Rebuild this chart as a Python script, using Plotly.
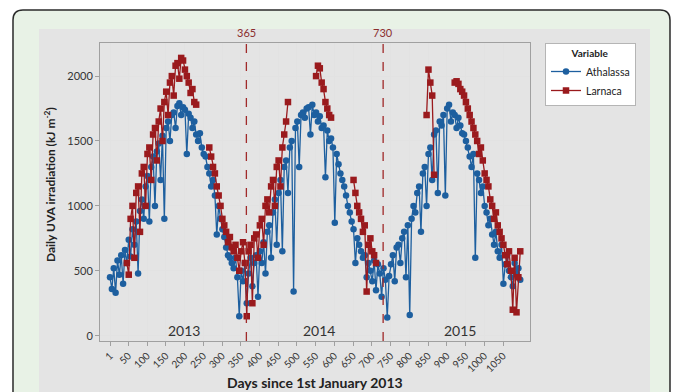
import plotly.graph_objects as go

# ---------------- data ----------------
days = list(range(1, 1097, 5))

athalassa = [
    450, 360, 520, 330, 580, 470, 620, 400, 660, 560, 740, 610, 820, 700, 880, 480,
    960, 1050, 900, 1150, 1230, 880, 1300, 1380, 1000, 1420, 1480, 1200, 1540, 900,
    1600, 1650, 1500, 1700, 1720, 1600, 1770, 1790, 1700, 1760, 1740, 1400, 1710, 1680,
    1600, 1650, 1550, 1500, 1560, 1450, 1400, 1380, 1300, 1250, 1150, 1200, 1080, 780,
    1000, 900, 820, 760, 680, 620, 600, 560, 520, 600, 450, 150, 500, 420, 560, 250,
    480, 600, 380, 560, 620, 300, 650, 560, 720, 480, 800, 850, 600, 950, 1050, 700,
    1100, 1200, 650, 1300, 1350, 1100, 1450, 1500, 340, 1600, 1650, 1300, 1700, 1720,
    1680, 1750, 1760, 1550, 1780, 1700, 1720, 1650, 1690, 1600, 1620, 1220, 1580, 1500,
    1520, 1450, 870, 1400, 1320, 1250, 1200, 1150, 1080, 1000, 950, 880, 820, 560,
    750, 700, 650, 600, 620, 450, 560, 500, 420, 580, 350, 550, 480, 300, 520, 430,
    140, 460, 550, 620, 420, 680, 700, 560, 750, 800, 450, 850, 160, 900, 1000, 950,
    1100, 1150, 800, 1250, 1300, 1000, 1400, 1450, 1200, 1550, 1580, 1100, 1650, 1620,
    1700, 1080, 1750, 1780, 1650, 1720, 1700, 1600, 1680, 1620, 1560, 1550, 1500, 1450,
    1380, 1300, 1400, 600, 1250, 1200, 1100, 1150, 1000, 950, 850, 900, 780, 700,
    800, 650, 600, 700, 400, 550, 620, 500, 450, 380, 560, 480, 520, 430,
]

N = None
larnaca = (
    [N] * 9
    + [560, 470, 900, 1000, 600, 1100, 1150, 800, 1250, 1300, 1000, 1400, 1450, 1200,
       1550, 1600, 1350, 1650, 1750, 1500, 1800, 1880, 1700, 1950, 2000, 1850, 2080,
       2100, 1980, 2140, 2120, 2050, 2000, 1950, 1870, 1900, 1800, 1780]
    + [N] * 6
    + [1450, 1380, 1300, 1250, 1150, 1080, 1000, 900, 850, 800, 720, 760, 680, 650,
       700, 600, 500, 650, 720, 560, 150, 650, 700, 250, 750, 780, 600, 850, 900, 700,
       1000, 1050, 950, 1150, 1200, 1000, 1300, 1350, 1150, 1450, 1550, 1650, 1800]
    + [N] * 14
    + [2000, 2080, 2060, 1950, 1900, 1800, 1750, 1700, 1680]
    + [N] * 11
    + [1200, 1100, 1000, 950, 900, 800, 850, 340, 700, 750, 650, 620, 560]
    + [N] * 26
    + [1700, 2050, 1950, 1850, 1240]
    + [N] * 10
    + [1950, 1960, 1940, 1900, 1880, 1850, 1800, 1750, 1700, 1650, 1600, 1550, 1500,
       1400, 1450, 1350, 1250, 1200, 1150, 1050, 1000, 900, 950, 850, 800, 750, 700,
       620, 550, 650, 500, 200, 600, 180, 450, 650]
)

x_ticks = [1] + list(range(50, 1051, 50))
y_ticks = [0, 500, 1000, 1500, 2000]
ref_days = [365, 730]
years = ["2013", "2014", "2015"]
year_days = [199, 559, 935]

# ---------------- layout helpers ----------------
W, H = 677, 392
L, R, T, B = 100, 147, 43, 51
PW, PH = W - L - R, H - T - B


def px(x):
    return (x - L) / PW


def py(y):
    return (H - B - y) / PH


def pt(x, y):
    return f"{px(x):.5f},{py(y):.5f}"


BLUE = "#1d5f9f"
RED = "#9a1a1d"

fig = go.Figure()
fig.add_trace(go.Scatter(
    x=days, y=athalassa, name="Athalassa", mode="lines+markers",
    line=dict(color=BLUE, width=1.3), marker=dict(symbol="circle", size=6.5, color=BLUE),
    connectgaps=False,
))
fig.add_trace(go.Scatter(
    x=days, y=larnaca, name="Larnaca", mode="lines+markers",
    line=dict(color=RED, width=1.3), marker=dict(symbol="square", size=6.5, color=RED),
    connectgaps=False,
))

shapes = []
# outer rounded frame
path = (f"M {pt(13, 400)} L {pt(13, 20)} Q {pt(13, 10)} {pt(23, 10)} "
        f"L {pt(660, 10)} Q {pt(670, 10)} {pt(670, 20)} L {pt(670, 400)} Z")
shapes.append(dict(type="path", xref="paper", yref="paper", path=path,
                   fillcolor="#e8f2e6", line=dict(color="#2a2a2a", width=1.5), layer="below"))
# inner grey panel
shapes.append(dict(type="rect", xref="paper", yref="paper",
                   x0=px(39), x1=px(650), y0=py(400), y1=py(29),
                   fillcolor="#e4e4e4", line=dict(width=0), layer="below"))
# reference lines
for d in ref_days:
    shapes.append(dict(type="line", xref="x", yref="paper", x0=d, x1=d, y0=0, y1=1,
                       line=dict(color="#a02a2a", width=1.3, dash="dash")))

annotations = []
for d in ref_days:
    annotations.append(dict(x=d, xref="x", y=py(33), yref="paper", text=str(d),
                            showarrow=False, font=dict(size=11, color="#8b2e2e", family="Lato"),
                            xanchor="center", yanchor="middle"))
for t, d in zip(years, year_days):
    annotations.append(dict(x=d, xref="x", y=40, yref="y", text=t, showarrow=False,
                            font=dict(size=14, color="#333333", family="Lato"),
                            xanchor="center", yanchor="middle"))
annotations.append(dict(x=px(50), y=py(185), xref="paper", yref="paper",
                        text="<b>Daily UVA irradiation (kJ m<sup>-2</sup>)</b>", textangle=-90,
                        xanchor="center", yanchor="middle",
                        showarrow=False, font=dict(size=12, color="#222222", family="Lato")))
annotations.append(dict(x=0.5, y=py(382), xref="paper", yref="paper",
                        text="<b>Days since 1st January 2013</b>",
                        xanchor="center", yanchor="middle",
                        showarrow=False, font=dict(size=14, color="#222222", family="Lato")))

fig.update_layout(
    width=W, height=H,
    margin=dict(l=L, r=R, t=T, b=B, autoexpand=False),
    paper_bgcolor="white", plot_bgcolor="white",
    font=dict(family="Lato", color="#333333"),
    shapes=shapes, annotations=annotations,
    showlegend=True,
    legend=dict(x=px(545), y=1.0, xanchor="left", yanchor="top",
                bgcolor="white", bordercolor="#b5b5b5", borderwidth=1,
                title=dict(text="<b>Variable</b>", side="top center", font=dict(size=10, color="#222")),
                font=dict(size=10.5, color="#222"), itemwidth=30, tracegroupgap=0),
    xaxis=dict(range=[-25.7, 1122], tickmode="array", tickvals=x_ticks,
               ticktext=[str(v) for v in x_ticks], tickangle=-45,
               tickfont=dict(size=10, color="#333"), showgrid=True, gridcolor="#e2e2e2",
               zeroline=False, showline=True, linecolor="#a0a0a0", mirror=True,
               ticks="outside", ticklen=4, tickcolor="#a0a0a0"),
    yaxis=dict(range=[-41, 2255], tickmode="array", tickvals=y_ticks,
               tickfont=dict(size=11, color="#333"), showgrid=True, gridcolor="#e2e2e2",
               zeroline=False, showline=True, linecolor="#a0a0a0", mirror=True,
               ticks="outside", ticklen=4, tickcolor="#a0a0a0"),
)

fig.write_html("out.html", config={"displayModeBar": False},
               post_script="document.body.style.margin='0px';document.body.style.overflow='hidden';")
